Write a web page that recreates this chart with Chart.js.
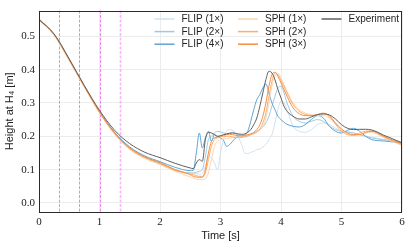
<!DOCTYPE html>
<html lang="en">

<head>
    <meta charset="UTF-8">
    <title>Height at H4</title>
    <script src="https://cdn.jsdelivr.net/npm/chart.js"></script>
    <style>
        html, body { margin: 0; padding: 0; background: #fff; }
        .chart-container { position: relative; width: 411px; height: 247px; }
    </style>
</head>

<body>
    <div class="chart-container">
        <canvas id="heightChart"></canvas>
    </div>

    <script>
        // time samples [s]
        const time = [0, 0.25, 0.5, 0.75, 1.0, 1.25, 1.5, 1.75, 2.0, 2.25, 2.5,
            2.55, 2.6, 2.65, 2.7, 2.75, 2.8, 2.85, 2.9, 2.95, 3.0, 3.05, 3.1, 3.15, 3.2, 3.25, 3.3, 3.35, 3.4, 3.45, 3.5,
            3.55, 3.6, 3.65, 3.7, 3.75, 3.8, 3.85, 3.9, 3.95, 4.0, 4.05, 4.1,
            4.2, 4.3, 4.4, 4.5, 4.6, 4.7, 4.8, 4.9, 5.0, 5.1, 5.2, 5.3, 5.4, 5.5, 5.6, 5.7, 5.8, 5.9, 6.0];

        const flip1 = [0.55, 0.503, 0.427, 0.348, 0.272, 0.209, 0.162, 0.14, 0.118, 0.098, 0.09,
            0.09, 0.088, 0.087, 0.09, 0.11, 0.14, 0.135, 0.12, 0.1, 0.15, 0.19, 0.215, 0.22, 0.218, 0.21, 0.195, 0.175, 0.15, 0.148, 0.152,
            0.155, 0.16, 0.162, 0.168, 0.176, 0.19, 0.205, 0.24, 0.28, 0.305, 0.3, 0.28,
            0.23, 0.215, 0.212, 0.22, 0.235, 0.24, 0.235, 0.225, 0.215, 0.212, 0.21, 0.205, 0.2, 0.197, 0.194, 0.19, 0.186, 0.182, 0.178];

        const flip2 = [0.55, 0.504, 0.428, 0.349, 0.273, 0.21, 0.166, 0.138, 0.12, 0.1, 0.09,
            0.09, 0.092, 0.095, 0.1, 0.14, 0.19, 0.2, 0.21, 0.215, 0.213, 0.21, 0.208, 0.21, 0.212, 0.21, 0.205, 0.2, 0.198, 0.2, 0.205,
            0.21, 0.215, 0.22, 0.228, 0.24, 0.26, 0.29, 0.32, 0.345, 0.35, 0.33, 0.3,
            0.26, 0.245, 0.24, 0.245, 0.25, 0.245, 0.23, 0.22, 0.215, 0.213, 0.21, 0.205, 0.2, 0.195, 0.192, 0.19, 0.188, 0.184, 0.18];

        const flip4 = [0.55, 0.505, 0.43, 0.35, 0.274, 0.212, 0.168, 0.141, 0.124, 0.107, 0.097,
            0.098, 0.15, 0.21, 0.165, 0.195, 0.215, 0.185, 0.205, 0.2, 0.195, 0.188, 0.17, 0.175, 0.185, 0.195, 0.2, 0.197, 0.205, 0.215, 0.245,
            0.28, 0.31, 0.325, 0.345, 0.357, 0.33, 0.3, 0.28, 0.26, 0.25, 0.242, 0.236,
            0.23, 0.228, 0.235, 0.25, 0.262, 0.255, 0.23, 0.215, 0.21, 0.218, 0.224, 0.215, 0.2, 0.19, 0.187, 0.186, 0.184, 0.182, 0.18];

        const sph1 = [0.553, 0.504, 0.428, 0.347, 0.27, 0.206, 0.16, 0.133, 0.115, 0.095, 0.078,
            0.075, 0.072, 0.07, 0.07, 0.072, 0.09, 0.13, 0.17, 0.185, 0.19, 0.192, 0.193, 0.195, 0.196, 0.197, 0.198, 0.2, 0.202, 0.204, 0.206,
            0.208, 0.212, 0.218, 0.23, 0.255, 0.3, 0.35, 0.38, 0.39, 0.375, 0.355, 0.335,
            0.3, 0.28, 0.27, 0.265, 0.262, 0.262, 0.255, 0.24, 0.22, 0.208, 0.203, 0.205, 0.21, 0.212, 0.206, 0.196, 0.188, 0.18, 0.172];

        const sph2 = [0.552, 0.505, 0.43, 0.349, 0.272, 0.208, 0.163, 0.136, 0.118, 0.098, 0.087,
            0.085, 0.082, 0.08, 0.08, 0.09, 0.13, 0.17, 0.19, 0.195, 0.198, 0.2, 0.2, 0.2, 0.198, 0.197, 0.197, 0.198, 0.2, 0.202, 0.205,
            0.208, 0.213, 0.222, 0.24, 0.27, 0.32, 0.365, 0.39, 0.385, 0.368, 0.35, 0.33,
            0.295, 0.275, 0.266, 0.262, 0.265, 0.27, 0.258, 0.236, 0.215, 0.205, 0.203, 0.21, 0.215, 0.216, 0.208, 0.198, 0.19, 0.182, 0.175];

        const sph3 = [0.552, 0.505, 0.43, 0.35, 0.273, 0.21, 0.165, 0.138, 0.121, 0.1, 0.085,
            0.08, 0.078, 0.077, 0.077, 0.1, 0.15, 0.185, 0.195, 0.198, 0.2, 0.203, 0.205, 0.206, 0.205, 0.203, 0.202, 0.202, 0.203, 0.205, 0.207,
            0.212, 0.22, 0.235, 0.26, 0.3, 0.35, 0.385, 0.392, 0.38, 0.36, 0.34, 0.32,
            0.285, 0.268, 0.262, 0.262, 0.265, 0.268, 0.262, 0.24, 0.222, 0.21, 0.205, 0.205, 0.212, 0.215, 0.21, 0.2, 0.192, 0.185, 0.178];

        const experiment = [0.55, 0.507, 0.432, 0.352, 0.278, 0.218, 0.178, 0.152, 0.136, 0.119, 0.105,
            0.103, 0.12, 0.13, 0.125, 0.19, 0.212, 0.21, 0.205, 0.2, 0.202, 0.205, 0.207, 0.209, 0.21, 0.208, 0.207, 0.206, 0.207, 0.212, 0.22,
            0.235, 0.255, 0.29, 0.33, 0.37, 0.395, 0.39, 0.37, 0.34, 0.315, 0.29, 0.275,
            0.26, 0.252, 0.252, 0.258, 0.265, 0.267, 0.264, 0.252, 0.235, 0.224, 0.22, 0.221, 0.221, 0.219, 0.212, 0.203, 0.196, 0.188, 0.181];

        // dashed vertical markers [s]
        const markerTimes = [0.333, 0.667, 1.0, 1.333];

        const xTicks = [0, 1, 2, 3, 4, 5, 6];
        const yTicks = [0.0, 0.1, 0.2, 0.3, 0.4, 0.5];

        const seriesLabels = ['FLIP (1\u00d7)', 'FLIP (2\u00d7)', 'FLIP (4\u00d7)', 'SPH (1\u00d7)', 'SPH (2\u00d7)', 'SPH (3\u00d7)', 'Experiment'];
        const seriesColors = ['#cfe1f2', '#9ecae1', '#5fa5d3', '#fdd5ae', '#fdae6b', '#f88d3f', '#5f5f5f'];
        const seriesData = [flip1, flip2, flip4, sph1, sph2, sph3, experiment];
        const drawOrder = [6, 5, 4, 3, 2, 1, 0];

        const serif = "'Liberation Serif', 'DejaVu Serif', serif";
        const sans = "'Liberation Sans', Arial, sans-serif";

        const datasets = seriesData.map((vals, i) => ({
            label: seriesLabels[i],
            data: vals.map((v, j) => ({ x: time[j], y: v })),
            borderColor: seriesColors[i],
            borderWidth: 1,
            pointRadius: 0,
            fill: false,
            cubicInterpolationMode: 'monotone',
            order: drawOrder[i],
        }));

        // vertical dashed lines at the marker times + frame
        const markerPlugin = {
            id: 'markers',
            beforeDatasetsDraw(chart) {
                const { ctx, chartArea, scales } = chart;
                ctx.save();
                markerTimes.forEach((t, i) => {
                    const x = Math.round(scales.x.getPixelForValue(t)) + 0.5;
                    ctx.strokeStyle = i < 3 ? 'rgba(232,110,232,0.85)' : 'rgba(240,140,240,0.6)';
                    ctx.lineWidth = i < 3 ? 1 : 1.6;
                    ctx.setLineDash([3, 1.5]);
                    ctx.beginPath();
                    ctx.moveTo(x, chartArea.top);
                    ctx.lineTo(x, chartArea.bottom);
                    ctx.stroke();
                });
                ctx.restore();
            },
            afterDraw(chart) {
                const { ctx, chartArea } = chart;
                ctx.save();
                ctx.strokeStyle = '#2b2b2b';
                ctx.lineWidth = 1;
                ctx.strokeRect(Math.round(chartArea.left) + 0.5, Math.round(chartArea.top) + 0.5,
                    Math.round(chartArea.right - chartArea.left) - 1, Math.round(chartArea.bottom - chartArea.top));
                ctx.restore();
            }
        };

        // legend in three columns, top right
        const legendPlugin = {
            id: 'colLegend',
            afterDraw(chart) {
                const { ctx } = chart;
                const columns = [[0, 1, 2], [3, 4, 5], [6]];
                const colX = [154.5, 238, 321.5];
                const rowY = [19, 31.6, 44.2];
                ctx.save();
                ctx.font = '10px ' + sans;
                ctx.textBaseline = 'middle';
                ctx.fillStyle = '#222';
                columns.forEach((col, c) => {
                    col.forEach((idx, r) => {
                        const x = colX[c];
                        const y = rowY[r];
                        ctx.strokeStyle = seriesColors[idx];
                        ctx.lineWidth = 1.5;
                        ctx.beginPath();
                        ctx.moveTo(x, y);
                        ctx.lineTo(x + 20, y);
                        ctx.stroke();
                        ctx.fillText(seriesLabels[idx], x + 27, y + 0.5);
                    });
                });
                ctx.restore();
            }
        };

        function buildChart() {
            const ctx = document.getElementById('heightChart').getContext('2d');
            new Chart(ctx, {
                type: 'line',
                data: { datasets: datasets },
                options: {
                    responsive: true,
                    maintainAspectRatio: false,
                    animation: false,
                    layout: { padding: { left: 0, right: 9, top: 7, bottom: 0 } },
                    plugins: {
                        legend: { display: false },
                        tooltip: { enabled: false },
                    },
                    scales: {
                        x: {
                            type: 'linear',
                            min: 0,
                            max: 6,
                            afterFit: (scale) => { scale.height = 35; },
                            afterBuildTicks: (scale) => { scale.ticks = xTicks.map(v => ({ value: v })); },
                            grid: { color: '#ececec', drawTicks: false },
                            border: { display: false },
                            ticks: {
                                padding: 4,
                                color: '#222',
                                font: { family: serif, size: 11 },
                                callback: (v) => String(v),
                            },
                            title: {
                                display: true,
                                text: 'Time [s]',
                                color: '#222',
                                font: { family: sans, size: 11 },
                                padding: { top: 0, bottom: 4 },
                            },
                        },
                        y: {
                            type: 'linear',
                            min: -0.027,
                            max: 0.577,
                            afterFit: (scale) => { scale.width = 39; },
                            afterBuildTicks: (scale) => { scale.ticks = yTicks.map(v => ({ value: v })); },
                            grid: { color: '#ececec', drawTicks: false },
                            border: { display: false },
                            ticks: {
                                padding: 4,
                                color: '#222',
                                font: { family: serif, size: 11 },
                                callback: (v) => v.toFixed(1),
                            },
                            title: {
                                display: true,
                                text: 'Height at H\u2084 [m]',
                                color: '#222',
                                font: { family: sans, size: 11 },
                                padding: { top: 3, bottom: 0 },
                            },
                        },
                    },
                },
                plugins: [markerPlugin, legendPlugin],
            });
        }

        // make sure the system fonts are ready before drawing on canvas
        Promise.all([
            document.fonts.load("11px 'Liberation Serif'"),
            document.fonts.load("11px 'Liberation Sans'"),
        ]).then(buildChart, buildChart);
    </script>

</body>

</html>
